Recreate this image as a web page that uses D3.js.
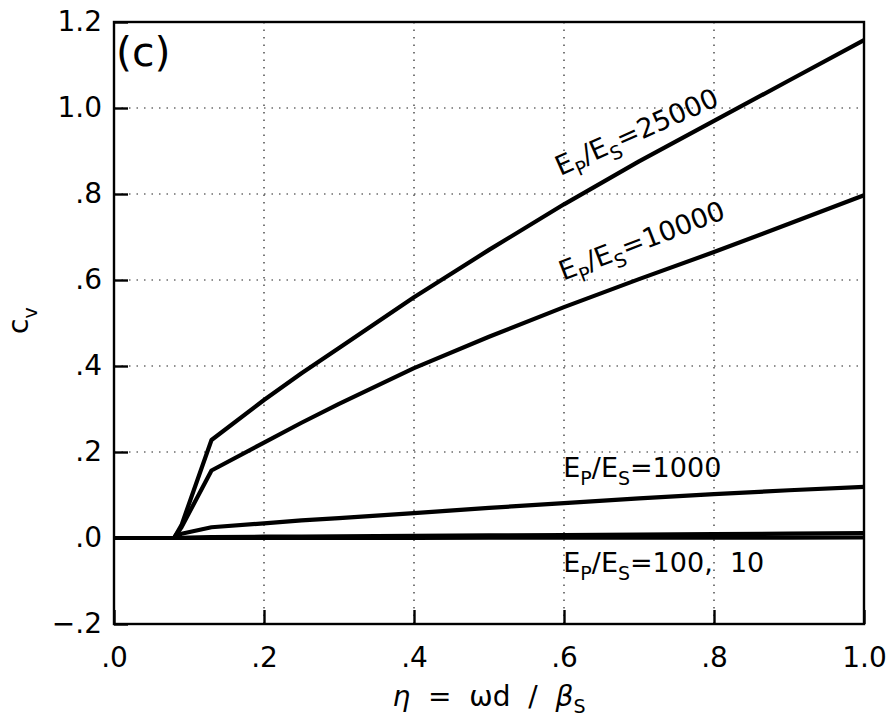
<!DOCTYPE html>
<html>
<head>
<meta charset="utf-8">
<script src="https://cdn.jsdelivr.net/npm/d3@7"></script>
<style>
  body { margin: 0; background: #fff; }
  svg { display: block; }
</style>
</head>
<body>
<svg id="chart" width="892" height="723"></svg>
<script>
// tick values and labels
const xTicks = [0, 0.2, 0.4, 0.6, 0.8, 1.0];
const xTickLabels = [".0", ".2", ".4", ".6", ".8", "1.0"];
const yTicks = [-0.2, 0, 0.2, 0.4, 0.6, 0.8, 1.0, 1.2];
const yTickLabels = ["\u2212.2", ".0", ".2", ".4", ".6", ".8", "1.0", "1.2"];

// eta values shared by the curves
const eta = [0, 0.08, 0.09, 0.13, 0.2, 0.25, 0.3, 0.4, 0.5, 0.6, 0.7, 0.8, 0.9, 1.0];

// c_v for each Ep/Es ratio
const cv25000 = [0, 0, 0.03, 0.228, 0.321, 0.383, 0.442, 0.56, 0.67, 0.776, 0.876, 0.97, 1.064, 1.158];
const cv10000 = [0, 0, 0.025, 0.157, 0.222, 0.268, 0.312, 0.395, 0.468, 0.537, 0.602, 0.665, 0.731, 0.797];
const cv1000  = [0, 0, 0.01, 0.025, 0.034, 0.041, 0.046, 0.058, 0.07, 0.081, 0.092, 0.102, 0.111, 0.119];
const cv100   = [0, 0, 0.0005, 0.002, 0.003, 0.0035, 0.004, 0.005, 0.006, 0.007, 0.008, 0.009, 0.010, 0.0115];
const cv10    = [0, 0, 0, 0.0002, 0.0003, 0.0003, 0.0004, 0.0005, 0.0006, 0.0007, 0.0008, 0.0009, 0.001, 0.0012];

const seriesList = [cv25000, cv10000, cv1000, cv100, cv10];

// curve labels
const labelRatios = ["25000", "10000", "1000", "100,  10"];

const svg = d3.select("#chart");
const pLeft = 114, pRight = 864, pTop = 22, pBottom = 624;
const font = "DejaVu Sans";

const x = d3.scaleLinear().domain([0, 1]).range([pLeft, pRight]);
const y = d3.scaleLinear().domain([-0.2, 1.2]).range([pBottom, pTop]);

// dotted grid
svg.append("g").selectAll("line")
    .data(xTicks.slice(1, -1))
    .join("line")
    .attr("x1", d => x(d)).attr("x2", d => x(d))
    .attr("y1", pTop).attr("y2", pBottom)
    .attr("stroke", "#222").attr("stroke-width", 1.2)
    .attr("stroke-dasharray", "1.5,6");

svg.append("g").selectAll("line")
    .data(yTicks.slice(1, -1))
    .join("line")
    .attr("x1", pLeft).attr("x2", pRight)
    .attr("y1", d => y(d)).attr("y2", d => y(d))
    .attr("stroke", "#222").attr("stroke-width", 1.2)
    .attr("stroke-dasharray", "1.5,6");

// axes with inward ticks
const xAxis = svg.append("g")
    .attr("transform", `translate(0,${pBottom})`)
    .call(d3.axisBottom(x).tickValues(xTicks).tickSize(-14).tickPadding(23)
        .tickFormat((d, i) => xTickLabels[i]));

const yAxis = svg.append("g")
    .attr("transform", `translate(${pLeft},0)`)
    .call(d3.axisLeft(y).tickValues(yTicks).tickSize(-14).tickPadding(12)
        .tickFormat((d, i) => yTickLabels[i]));

[xAxis, yAxis].forEach(g => {
    g.select(".domain").remove();
    g.selectAll("line").attr("stroke", "#000").attr("stroke-width", 2.4);
    g.selectAll("text")
        .attr("fill", "#000")
        .style("font-family", font)
        .style("font-size", "28px");
});

// frame
svg.append("rect")
    .attr("x", pLeft).attr("y", pTop)
    .attr("width", pRight - pLeft).attr("height", pBottom - pTop)
    .attr("fill", "none").attr("stroke", "#000").attr("stroke-width", 2.4);

// curves
const line = d3.line()
    .x((d, i) => x(eta[i]))
    .y(d => y(d));

svg.append("g").selectAll("path")
    .data(seriesList)
    .join("path")
    .attr("d", line)
    .attr("fill", "none")
    .attr("stroke", "#000")
    .attr("stroke-width", 4.2)
    .attr("stroke-linejoin", "round");

// curve labels (anchor in data units, rotation in degrees)
const labelSpots = [
    { eta: 0.595, cv: 0.842, rot: -24 },
    { eta: 0.599, cv: 0.598, rot: -21 },
    { eta: 0.599, cv: 0.142, rot: 0 },
    { eta: 0.599, cv: -0.079, rot: 0 }
];

labelRatios.forEach((r, i) => {
    const s = labelSpots[i];
    const t = svg.append("text")
        .attr("transform", `translate(${x(s.eta)},${y(s.cv)}) rotate(${s.rot})`)
        .style("font-family", font)
        .style("font-size", "27px")
        .style("white-space", "pre")
        .attr("fill", "#000");
    t.append("tspan").text("E");
    t.append("tspan").attr("dy", 8).style("font-size", "19px").text("P");
    t.append("tspan").attr("dy", -8).text("/E");
    t.append("tspan").attr("dy", 8).style("font-size", "19px").text("S");
    t.append("tspan").attr("dy", -8).text("=" + r);
});

// panel tag
svg.append("text")
    .attr("x", 116).attr("y", 66)
    .style("font-family", font)
    .style("font-size", "41px")
    .text("(c)");

// x title
const xt = svg.append("text")
    .attr("x", 489).attr("y", 706)
    .attr("text-anchor", "middle")
    .style("font-family", font)
    .style("font-size", "28px")
    .style("white-space", "pre");
xt.append("tspan").style("font-style", "italic").text("\u03b7");
xt.append("tspan").text("  =  \u03c9d  /  ");
xt.append("tspan").style("font-style", "italic").text("\u03b2");
xt.append("tspan").attr("dy", 7).style("font-size", "19px").text("S");

// y title
const yt = svg.append("text")
    .attr("transform", "translate(28,334) rotate(-90)")
    .style("font-family", font)
    .style("font-size", "28px");
yt.append("tspan").text("c");
yt.append("tspan").attr("dy", 9).style("font-size", "19px").text("v");
</script>
</body>
</html>
